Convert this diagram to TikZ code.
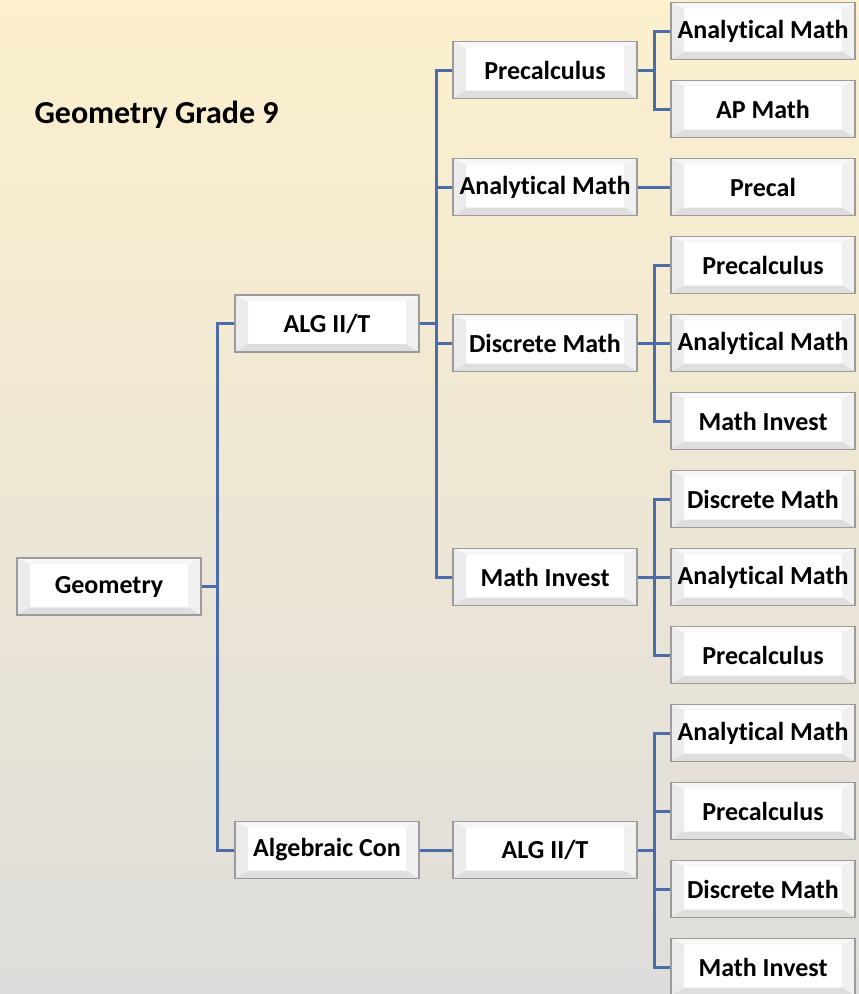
\documentclass[tikz,border=0pt]{standalone}
\usepackage{fontspec}
\setmainfont{Carlito}[Ligatures=NoCommon]
\usetikzlibrary{calc,positioning}
\definecolor{bgtop}{RGB}{252,240,205}
\definecolor{bgbot}{RGB}{222,221,219}
\definecolor{linkblue}{RGB}{74,108,170}
\definecolor{bevelgray}{RGB}{155,155,155}
\tikzset{
  box/.style={draw=bevelgray,line width=1.6pt,fill=white,
              minimum width=184pt,minimum height=57pt,inner sep=0pt,
              font=\fontsize{26}{30}\selectfont\bfseries,text centered,
              path picture={
                \coordinate (bsw) at (path picture bounding box.south west);
                \coordinate (bse) at (path picture bounding box.south east);
                \coordinate (bnw) at (path picture bounding box.north west);
                \coordinate (bne) at (path picture bounding box.north east);
                \fill[black!3] (bnw)--(bne)--([shift={(-13pt,-6pt)}]bne)--([shift={(13pt,-6pt)}]bnw)--cycle;
                \fill[black!8] (bnw)--([shift={(13pt,-6pt)}]bnw)--([shift={(13pt,8pt)}]bsw)--(bsw)--cycle;
                \fill[black!6] (bne)--([shift={(-13pt,-6pt)}]bne)--([shift={(-13pt,8pt)}]bse)--(bse)--cycle;
                \fill[black!13] (bsw)--([shift={(13pt,8pt)}]bsw)--([shift={(-13pt,8pt)}]bse)--(bse)--cycle;
              }},
  link/.style={draw=linkblue,line width=3pt},
  title/.style={font=\fontsize{32}{36}\selectfont\bfseries,anchor=west}
}
\begin{document}
\begin{tikzpicture}[x=1pt,y=1pt,node distance=19.4pt]
\shade[top color=bgtop,bottom color=bgbot] (0,0) rectangle (859,-994);
\useasboundingbox (0,0) rectangle (859,-994);

\node[title] (head) at (31,-115) {Geometry Grade 9};

% third column
\node[box] (c1) at (763,-31) {Analytical Math};
\node[box, below=of c1] (c2) {AP Math};
\node[box, below=of c2] (c3) {Precal};
\node[box, below=of c3] (c4) {Precalculus};
\node[box, below=of c4] (c5) {Analytical Math};
\node[box, below=of c5] (c6) {Math Invest};
\node[box, below=of c6] (c7) {Discrete Math};
\node[box, below=of c7] (c8) {Analytical Math};
\node[box, below=of c8] (c9) {Precalculus};
\node[box, below=of c9] (c10) {Analytical Math};
\node[box, below=of c10] (c11) {Precalculus};
\node[box, below=of c11] (c12) {Discrete Math};
\node[box, below=of c12] (c13) {Math Invest};

% second column
\node[box] (b1) at ($(c1)!0.5!(c2)-(218,0)$) {Precalculus};
\node[box] (b2) at ($(c3)-(218,0)$) {Analytical Math};
\node[box] (b3) at ($(c5)-(218,0)$) {Discrete Math};
\node[box] (b4) at ($(c8)-(218,0)$) {Math Invest};
\node[box] (b5) at ($(c11)!0.5!(c12)-(218,0)$) {ALG II/T};

% first column
\node[box] (a1) at ($(b1)!0.5!(b4)-(218,0)$) {ALG II/T};
\node[box] (a2) at ($(b5)-(218,0)$) {Algebraic Con};
\node[box] (geo) at ($(a1)!0.5!(a2)-(218,0)$) {Geometry};

% connectors
\foreach \k in {a1,a2} \draw[link] (geo.east) -- ++(16,0) |- (\k.west);
\foreach \k in {b1,b2,b3,b4} \draw[link] (a1.east) -- ++(17,0) |- (\k.west);
\draw[link] (a2) -- (b5);
\foreach \k in {c1,c2} \draw[link] (b1.east) -- ++(17,0) |- (\k.west);
\draw[link] (b2) -- (c3);
\foreach \k in {c4,c5,c6} \draw[link] (b3.east) -- ++(17,0) |- (\k.west);
\foreach \k in {c7,c8,c9} \draw[link] (b4.east) -- ++(17,0) |- (\k.west);
\foreach \k in {c10,c11,c12,c13} \draw[link] (b5.east) -- ++(17,0) |- (\k.west);
\end{tikzpicture}
\end{document}
